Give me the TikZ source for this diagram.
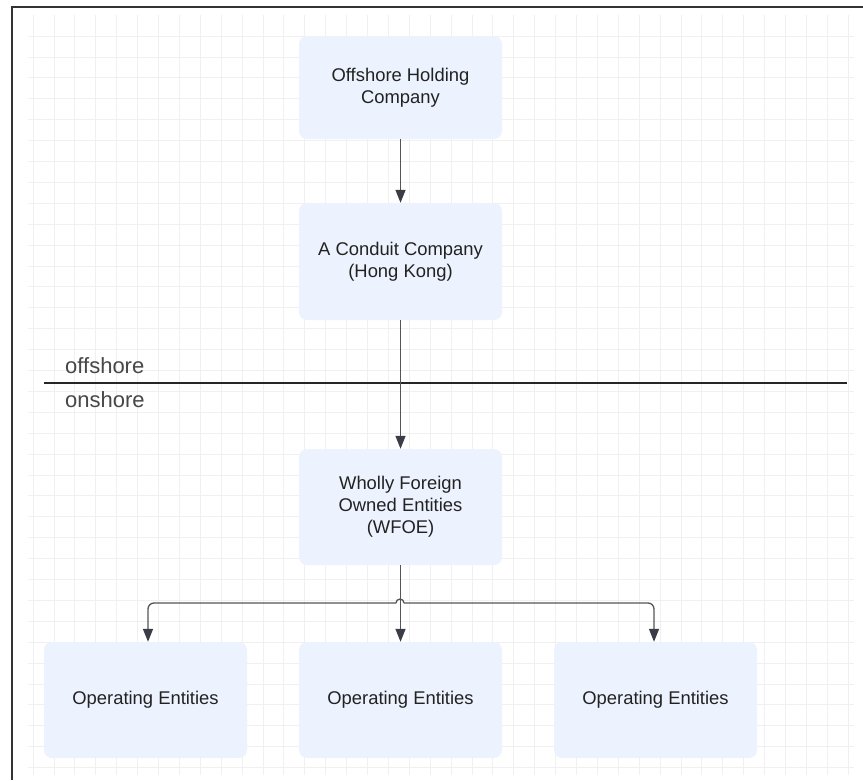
\documentclass[tikz,border=0pt]{standalone}
\usepackage{fontspec}
\setmainfont{Liberation Sans}
\usetikzlibrary{arrows.meta,calc}
\definecolor{boxfill}{HTML}{EDF3FE}
\definecolor{gridc}{HTML}{F0F0F0}
\definecolor{txt}{HTML}{222222}
\definecolor{linec}{HTML}{555555}
\definecolor{tipc}{HTML}{3A3D45}
\tikzset{
  entity/.style={fill=boxfill, rounded corners=8pt, minimum width=203pt, inner sep=0pt,
    text=txt, align=center, font=\fontsize{18.4}{22}\selectfont},
  gridline/.style={draw=gridc, line width=0.8pt},
  conn/.style={draw=linec, line width=1.3pt},
  arr/.style={conn, -{Triangle[length=13pt,width=10pt,fill=tipc,color=tipc]}},
  zonelabel/.style={anchor=base west, inner sep=0pt, text=black!72, font=\fontsize{22}{26}\selectfont}
}
\begin{document}
\begin{tikzpicture}[x=1pt,y=1pt]
\useasboundingbox (0,0) rectangle (863,-780);
\fill[white] (0,0) rectangle (863,-780);
% grid
\foreach \i in {0,...,39} \draw[gridline] (33+20.9*\i,-15) -- (33+20.9*\i,-775);
\foreach \j in {0,...,35} \draw[gridline] (28,-36-20.9*\j) -- (854,-36-20.9*\j);
% frame
\draw[draw=black!80, line width=2pt] (12,-780) -- (12,-7) -- (863,-7);
% boxes
\node[entity, minimum height=103pt] (hold) at (400.5,-87.5) {Offshore Holding\\Company};
\node[entity, minimum height=117pt] (cond) at (400.5,-261.5) {A Conduit Company\\(Hong Kong)};
\node[entity, minimum height=116pt] (wfoe) at (400.5,-507) {Wholly Foreign\\Owned Entities\\(WFOE)};
\node[entity, minimum height=116pt] (opA) at (145.5,-700) {Operating Entities};
\node[entity, minimum height=116pt] (opB) at (400.5,-700) {Operating Entities};
\node[entity, minimum height=116pt] (opC) at (655.5,-700) {Operating Entities};
% divider
\coordinate (divL) at (44,-383);
\coordinate (divR) at (847,-383);
\draw[draw=black!85, line width=2.2pt] (divL) -- (divR);
\node[zonelabel] (offl) at (65,-373) {offshore};
\node[zonelabel] (onl) at (65,-407) {onshore};
% connectors
\draw[arr] (hold.south) -- (cond.north);
\draw[arr] (cond.south) -- (wfoe.north);
\draw[arr] (wfoe.south) -- (opB.north);
\coordinate (jl) at (396,-603);
\coordinate (jr) at (404,-603);
\draw[arr, rounded corners=6pt] (jl) -| ([xshift=2.5pt]opA.north);
\draw[arr, rounded corners=6pt] (jr) -| ([xshift=-1.5pt]opC.north);
\draw[conn] (jl) arc[start angle=180, end angle=0, radius=4pt];
\end{tikzpicture}
\end{document}
